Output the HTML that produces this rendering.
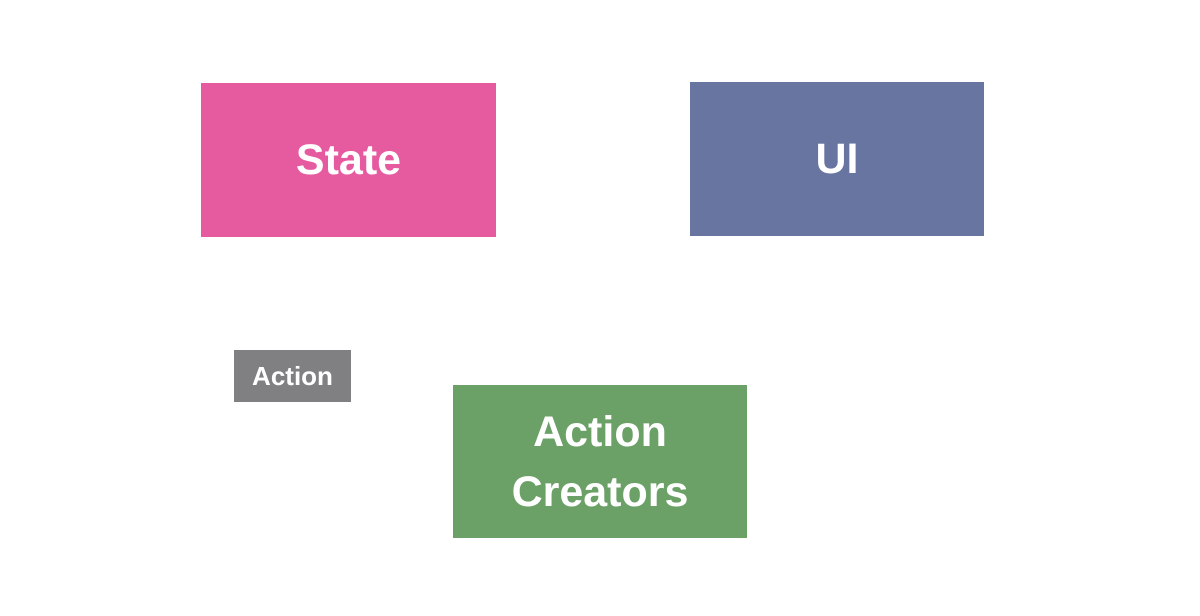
<!DOCTYPE html>
<html><head><meta charset="utf-8"><style>
html,body{margin:0;padding:0;background:#fff;width:1200px;height:616px;overflow:hidden}
.b{position:absolute;display:flex;align-items:center;justify-content:center;color:#fff;font-family:"Liberation Sans",sans-serif;font-weight:bold;text-align:center}
</style></head><body>
<div class="b" style="left:201px;top:83px;width:295px;height:154px;background:#E65BA0;font-size:43px">State</div>
<div class="b" style="left:690px;top:82px;width:294px;height:154px;background:#6875A0;font-size:43px">UI</div>
<div class="b" style="left:234px;top:350px;width:117px;height:52px;background:#808083;font-size:26px">Action</div>
<div class="b" style="left:453px;top:385px;width:294px;height:153px;background:#6BA067;font-size:43px;line-height:60px">Action<br>Creators</div>
</body></html>
